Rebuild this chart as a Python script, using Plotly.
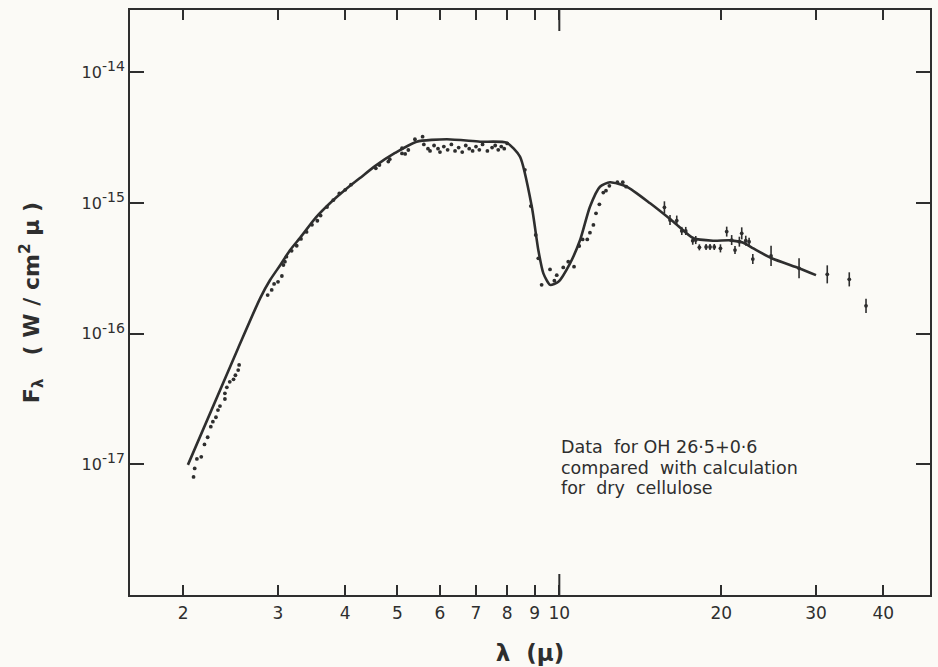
import numpy as np
import plotly.graph_objects as go

# ---- model curve (dry cellulose calculation) ----
curve_x = [2.04, 2.53, 2.78, 2.90, 3.03, 3.16, 3.30, 3.52, 3.75, 4.00, 4.26, 4.55, 4.95, 5.43,
           6.18, 7.12, 7.98,
           8.45, 8.89, 9.14, 9.34, 9.61, 9.96, 10.47, 10.93, 11.40, 11.90, 12.42, 13.35,
           14.75, 16.29, 17.75, 19.33, 20.77, 21.98, 22.94, 24.82, 27.90, 30.0]
curve_y = [0.99e-17, 7.76e-17, 1.87e-16, 2.57e-16, 3.35e-16, 4.36e-16, 5.43e-16, 7.65e-16,
           9.98e-16, 1.26e-15, 1.55e-15, 1.92e-15, 2.41e-15, 2.94e-15,
           3.07e-15, 2.94e-15, 2.89e-15,
           2.26e-15, 9.35e-16, 4.36e-16, 2.89e-16, 2.36e-16, 2.49e-16, 3.45e-16, 5.20e-16,
           9.35e-16, 1.33e-15, 1.44e-15, 1.33e-15,
           9.93e-16, 7.18e-16, 5.36e-16, 5.14e-16, 5.17e-16, 4.96e-16, 4.49e-16, 3.77e-16,
           3.16e-16, 2.80e-16]

# ---- photometric data points (dots) ----
dots_x = [2.09, 2.10, 2.12, 2.16, 2.19, 2.22, 2.25, 2.27, 2.30, 2.32, 2.34, 2.39, 2.39,
          2.41, 2.44, 2.48, 2.50, 2.53, 2.54,
          2.87, 2.92, 2.95, 3.00, 3.05, 3.07, 3.09, 3.11,
          3.18, 3.25, 3.31, 3.39, 3.47, 3.55, 3.60, 3.70, 3.80, 3.90, 4.00, 4.10,
          4.56, 4.63, 4.81, 4.84, 5.10, 5.17, 5.24, 5.10, 5.39, 5.57,
          5.60, 5.70, 5.75, 5.85, 5.95, 6.00, 6.10, 6.20, 6.30, 6.40, 6.50, 6.60, 6.70,
          6.80, 6.90, 7.00, 7.10, 7.20, 7.35, 7.50, 7.60, 7.70, 7.80, 7.90, 8.00,
          8.63, 8.85, 9.04, 9.14, 9.27, 9.61, 9.79, 9.89, 10.17, 10.39, 10.65, 10.89,
          11.05, 11.27, 11.40, 11.57, 11.70, 11.87, 12.07, 12.21, 12.39, 12.82, 13.12, 13.31]
dots_y = [8.0e-18, 9.3e-18, 1.10e-17, 1.14e-17, 1.42e-17, 1.61e-17, 1.94e-17, 2.12e-17,
          2.29e-17, 2.60e-17, 2.79e-17, 3.16e-17, 3.49e-17,
          3.88e-17, 4.28e-17, 4.47e-17, 4.80e-17, 5.26e-17, 5.76e-17,
          1.97e-16, 2.16e-16, 2.40e-16, 2.49e-16, 2.76e-16, 3.35e-16, 3.55e-16, 3.88e-16,
          4.3e-16, 4.7e-16, 5.3e-16, 6.0e-16, 6.8e-16, 7.3e-16, 8.0e-16, 9.3e-16, 1.05e-15,
          1.18e-15, 1.26e-15, 1.38e-15,
          1.84e-15, 1.95e-15, 2.07e-15, 2.16e-15, 2.39e-15, 2.37e-15, 2.54e-15, 2.62e-15,
          3.07e-15, 3.21e-15,
          2.80e-15, 2.60e-15, 2.50e-15, 2.75e-15, 2.60e-15, 2.45e-15, 2.70e-15, 2.55e-15,
          2.80e-15, 2.50e-15, 2.65e-15, 2.45e-15, 2.75e-15, 2.60e-15, 2.50e-15, 2.70e-15,
          2.55e-15, 2.80e-15, 2.50e-15, 2.65e-15, 2.75e-15, 2.55e-15, 2.70e-15, 2.60e-15,
          2.85e-15,
          1.79e-15, 9.46e-16, 5.68e-16, 3.77e-16, 2.36e-16, 3.10e-16, 2.54e-16, 2.80e-16,
          3.21e-16, 3.55e-16, 3.25e-16, 4.68e-16,
          5.26e-16, 5.26e-16, 5.92e-16, 6.78e-16, 8.32e-16, 9.75e-16, 1.20e-15, 1.24e-15,
          1.35e-15, 1.44e-15, 1.44e-15, 1.33e-15]

# ---- data points with error bars (error in dex) ----
err_x = [15.68, 16.06, 16.53, 16.89, 17.18, 17.70, 17.93, 18.21, 18.74, 19.06, 19.41,
         19.93, 20.47, 20.91, 21.21, 21.61, 21.83, 22.21, 22.53, 22.89,
         24.75, 27.90, 31.48, 34.59, 37.16]
err_y = [9.25e-16, 7.40e-16, 7.33e-16, 6.10e-16, 6.10e-16, 5.14e-16, 5.20e-16, 4.57e-16,
         4.60e-16, 4.60e-16, 4.60e-16, 4.49e-16, 6.03e-16, 5.20e-16, 4.36e-16, 5.05e-16,
         5.85e-16, 5.14e-16, 5.05e-16, 3.72e-16,
         3.93e-16, 3.16e-16, 2.84e-16, 2.60e-16, 1.63e-16]
err_dex = [0.046, 0.038, 0.038, 0.031, 0.031, 0.031, 0.031, 0.023, 0.023, 0.023, 0.023,
           0.031, 0.038, 0.038, 0.031, 0.038, 0.046, 0.038, 0.031, 0.038,
           0.077, 0.077, 0.069, 0.054, 0.054]

x_ticks = [2, 3, 4, 5, 6, 7, 8, 9, 10, 20, 30, 40]
y_ticks = [1e-17, 1e-16, 1e-15, 1e-14]
y_exps = ["-17", "-16", "-15", "-14"]
note_lines = ["Data  for OH 26·5+0·6", "compared  with calculation", "for  dry  cellulose"]

ink = "#2e2e2e"
font_fam = "DejaVu Sans, Verdana, sans-serif"

ey = np.array(err_y)
ed = np.array(err_dex)
err_plus = ey * (10 ** ed - 1)
err_minus = ey * (1 - 10 ** (-ed))

fig = go.Figure()
fig.add_trace(go.Scatter(x=curve_x, y=curve_y, mode="lines",
                         line=dict(color=ink, width=2.6, shape="spline", smoothing=0.6),
                         hoverinfo="skip", showlegend=False))
fig.add_trace(go.Scatter(x=dots_x, y=dots_y, mode="markers", marker=dict(color=ink, size=3.8),
                         showlegend=False))
fig.add_trace(go.Scatter(x=err_x, y=err_y, mode="markers", marker=dict(color=ink, size=3.8),
                         error_y=dict(type="data", array=err_plus, arrayminus=err_minus, symmetric=False,
                                      color=ink, thickness=1.6, width=0),
                         showlegend=False))

# longer tick at 10 (bottom and top)
for y0, y1 in [(0, 21 / 585), (1 - 21 / 585, 1)]:
    fig.add_shape(type="line", xref="x", yref="paper", x0=10, x1=10, y0=y0, y1=y1,
                  line=dict(color=ink, width=2))

for line_txt, yp in zip(note_lines, [0.253, 0.217, 0.183]):
    fig.add_annotation(xref="paper", yref="paper", x=0.536, y=yp, xanchor="left", yanchor="middle",
                       align="left", showarrow=False, text=line_txt,
                       font=dict(family=font_fam, size=17.5, color=ink))

y_ticktext = ["10<sup><span style='font-size:14px'>%s</span></sup>" % e for e in y_exps]

fig.update_layout(
    width=938, height=667,
    margin=dict(l=130, r=8, t=10, b=72),
    paper_bgcolor="#fbfaf6", plot_bgcolor="#fbfaf6",
    font=dict(family=font_fam, color=ink),
    xaxis=dict(type="log", range=[0.202, 1.689], tickvals=x_ticks, ticktext=[str(v) for v in x_ticks],
               ticks="inside", ticklen=10, tickwidth=2, tickcolor=ink,
               showline=True, linewidth=2, linecolor=ink, mirror="ticks",
               showgrid=False, zeroline=False, tickfont=dict(size=17, color=ink), automargin=False,
               ticklabelstandoff=2,
               title=dict(text="<b>λ\u00a0\u00a0(μ)</b>", font=dict(size=23, color=ink), standoff=22)),
    yaxis=dict(type="log", range=[-18.0, -13.524], tickvals=y_ticks, ticktext=y_ticktext,
               ticks="inside", ticklen=14, tickwidth=2, tickcolor=ink,
               showline=True, linewidth=2, linecolor=ink, mirror="ticks",
               showgrid=False, zeroline=False, tickfont=dict(size=16, color=ink), automargin=False,
               title=dict(text="<b>F<sub>λ</sub>\u00a0\u00a0\u00a0(\u00a0W\u00a0/\u00a0cm<sup>2</sup>\u00a0μ\u00a0)</b>",
                          font=dict(size=22, color=ink), standoff=36)),
)

fig.write_html("out.html", config={"displayModeBar": False},
               post_script="document.body.style.margin='0';document.body.style.overflow='hidden';")
